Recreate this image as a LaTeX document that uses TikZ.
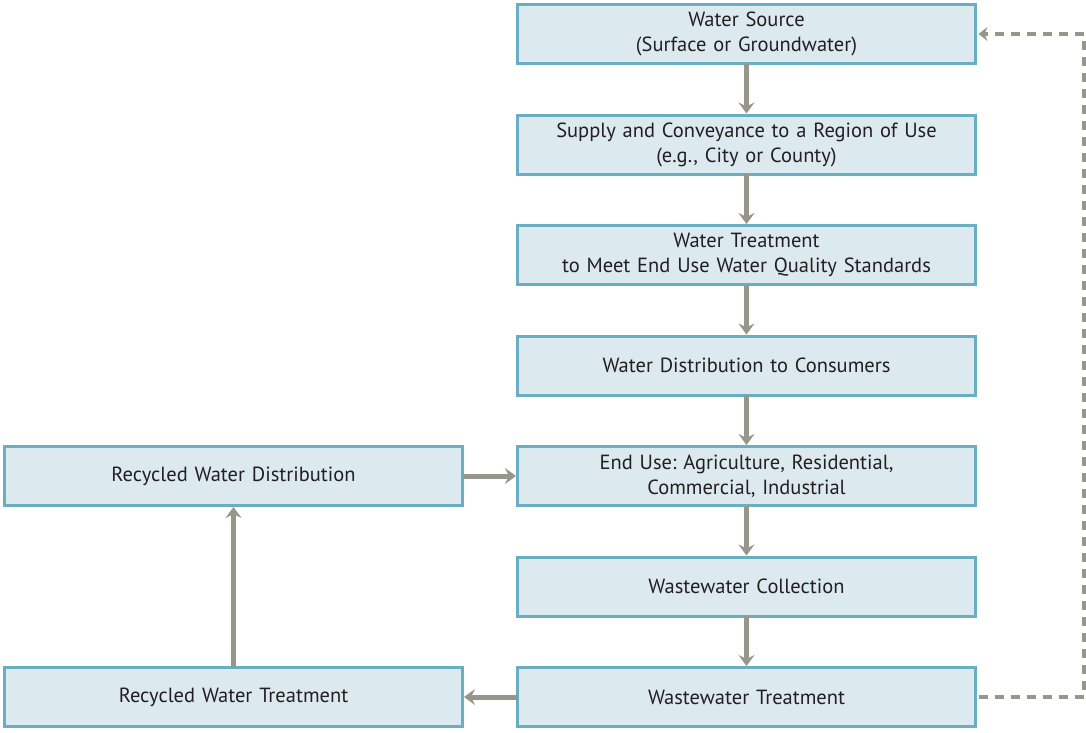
\documentclass[tikz,border=0pt]{standalone}
\usepackage{fontspec}
\setmainfont{PT Sans}
\frenchspacing
\usetikzlibrary{positioning}
\usetikzlibrary{arrows.meta}

\definecolor{boxfill}{HTML}{DCEAF0}
\definecolor{boxline}{HTML}{6AAFC1}
\definecolor{flowgray}{HTML}{96968A}
\definecolor{textgray}{HTML}{231F20}

\tikzset{
  stage/.style={draw=boxline, fill=boxfill, line width=3pt, minimum width=458pt, minimum height=59pt,
    outer sep=0pt, text width=440pt, align=center, text=textgray,
    font=\fontsize{20.5}{25}\selectfont, inner sep=0pt},
  flow/.style={draw=flowgray, line width=5pt, -{Stealth[length=11pt,width=16pt,inset=4pt]}, shorten >=1.5pt},
  loop/.style={draw=flowgray, line width=4pt, dash pattern=on 9pt off 7pt, -{Stealth[length=9pt,width=14pt,inset=3pt]}}
}

\begin{document}
\begin{tikzpicture}[node distance=51.5pt]
		\useasboundingbox (0,0) rectangle (1086pt,-732pt);
		\node [stage] (S1) at (746.5pt,-34pt) {Water Source\\(Surface or Groundwater)};
		\node [stage, below=of S1] (S2) {Supply and Conveyance to a Region of Use\\(e.g., City or County)};
		\node [stage, below=of S2] (S3) {Water Treatment\\to Meet End Use Water Quality Standards};
		\node [stage, below=of S3] (S4) {Water Distribution to Consumers};
		\node [stage, below=of S4] (S5) {End Use: Agriculture, Residential,\\Commercial, Industrial};
		\node [stage, below=of S5] (S6) {Wastewater Collection};
		\node [stage, below=of S6] (S7) {Wastewater Treatment};
		\node [stage, left=55pt of S5] (R1) {Recycled Water Distribution};
		\node [stage, left=55pt of S7] (R2) {Recycled Water Treatment};

		\foreach \a/\b in {S1/S2,S2/S3,S3/S4,S4/S5,S5/S6,S6/S7,S7/R2,R2/R1,R1/S5}
			\draw [flow] (\a) -- (\b);

		\coordinate (C1) at ([xshift=108pt]S7.east);
		\draw [loop, shorten <=3pt, shorten >=3pt] (S7.east) -- (C1) |- (S1.east);
	\end{tikzpicture}
\end{document}
